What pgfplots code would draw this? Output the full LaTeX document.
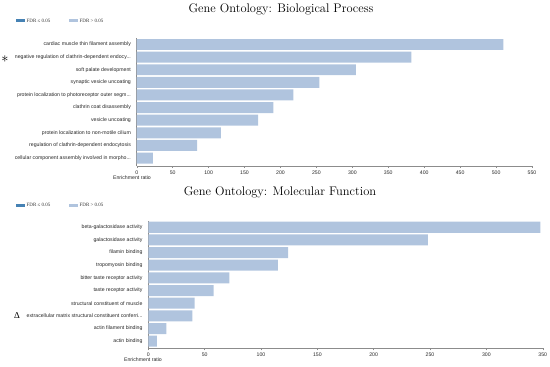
\documentclass[border=0pt]{standalone}
\usepackage{pgfplots}
\pgfplotsset{compat=1.18}
\usepackage{fontspec}
\setmainfont{Liberation Serif}
\newfontfamily\labfont{Liberation Sans}
\newfontfamily\titfont{Latin Modern Roman}
\definecolor{barc}{HTML}{B0C4DE}
\definecolor{darkc}{HTML}{4682B4}
\newcommand{\trl}{...}
\pgfplotsset{
  gobar/.style={
    xbar, scale only axis, anchor=south west,
    xmin=0, ytick={0,1,2,3,4,5,6,7,8,9},
    bar width=0.87,
    axis x line*=bottom, axis y line*=left,
    axis line style={black!45, line width=0.5pt},
    x tick style={black!45, line width=0.4pt},
    ytick style={draw=none},
    tick align=outside, major tick length=2bp,
    tick label style={font=\labfont\fontsize{5.2}{6}\selectfont, text=black!85},
    /pgf/number format/assume math mode=true,
    xticklabel style={yshift=1bp},
    yticklabel style={xshift=-0.3bp},
    clip=false,
  }
}
\begin{document}
\begin{tikzpicture}[x=1bp,y=1bp]
\path[use as bounding box] (0,0) rectangle (550,366);
% ---------- top chart
\node[font=\titfont\fontsize{12.5}{14}\selectfont] at (281,357) {Gene Ontology: Biological Process};
\fill[darkc] (16,344) rectangle (25,347);
\node[anchor=west, font=\fontsize{5}{6}\selectfont, text=black!80, inner sep=0] at (26.5,345.5) {FDR ≤ 0.05};
\fill[barc] (69,344) rectangle (78,347);
\node[anchor=west, font=\fontsize{5}{6}\selectfont, text=black!80, inner sep=0] at (79.5,345.5) {FDR > 0.05};
\node[font=\fontsize{15}{15}\selectfont] at (5,307) {$\ast$};
\begin{axis}[gobar,
  at={(136.7bp,200bp)}, width=395.3bp, height=127.8bp,
  xmax=550, xtick={0,50,100,150,200,250,300,350,400,450,500,550},
  ymin=-0.63, ymax=9.5,
  yticklabels={
    {cellular component assembly involved in morpho\trl},
    {regulation of clathrin-dependent endocytosis},
    {protein localization to non-motile cilium},
    {vesicle uncoating},
    {clathrin coat disassembly},
    {protein localization to photoreceptor outer segm\trl},
    {synaptic vesicle uncoating},
    {soft palate development},
    {negative regulation of clathrin-dependent endocy\trl},
    {cardiac muscle thin filament assembly}},
]
\addplot[fill=barc, draw=none] coordinates {(22.5,0) (84,1) (117,2) (169,3) (190,4) (218,5) (254,6) (305,7) (382,8) (510,9)};
\end{axis}
\node[font=\labfont\fontsize{5.2}{6}\selectfont, text=black!85] at (132,188) {Enrichment ratio};
% ---------- bottom chart
\node[font=\titfont\fontsize{12.5}{14}\selectfont] at (280,174) {Gene Ontology: Molecular Function};
\fill[darkc] (16,159.5) rectangle (25,162.5);
\node[anchor=west, font=\fontsize{5}{6}\selectfont, text=black!80, inner sep=0] at (26.5,161) {FDR ≤ 0.05};
\fill[barc] (69,159.5) rectangle (78,162.5);
\node[anchor=west, font=\fontsize{5}{6}\selectfont, text=black!80, inner sep=0] at (79.5,161) {FDR > 0.05};
\node[font=\fontsize{9}{10}\selectfont] at (17,50.5) {Δ};
\begin{axis}[gobar,
  at={(148.3bp,17.7bp)}, width=394.4bp, height=127.4bp,
  xmax=350, xtick={0,50,100,150,200,250,300,350},
  ymin=-0.56, ymax=9.5,
  yticklabels={
    {actin binding},
    {actin filament binding},
    {extracellular matrix structural constituent conferri\trl},
    {structural constituent of muscle},
    {taste receptor activity},
    {bitter taste receptor activity},
    {tropomyosin binding},
    {filamin binding},
    {galactosidase activity},
    {beta-galactosidase activity}},
]
\addplot[fill=barc, draw=none] coordinates {(7.5,0) (16,1) (39,2) (41,3) (58,4) (72,5) (115,6) (124,7) (248,8) (348,9)};
\end{axis}
\node[font=\labfont\fontsize{5.2}{6}\selectfont, text=black!85] at (143,6) {Enrichment ratio};
\end{tikzpicture}
\end{document}
